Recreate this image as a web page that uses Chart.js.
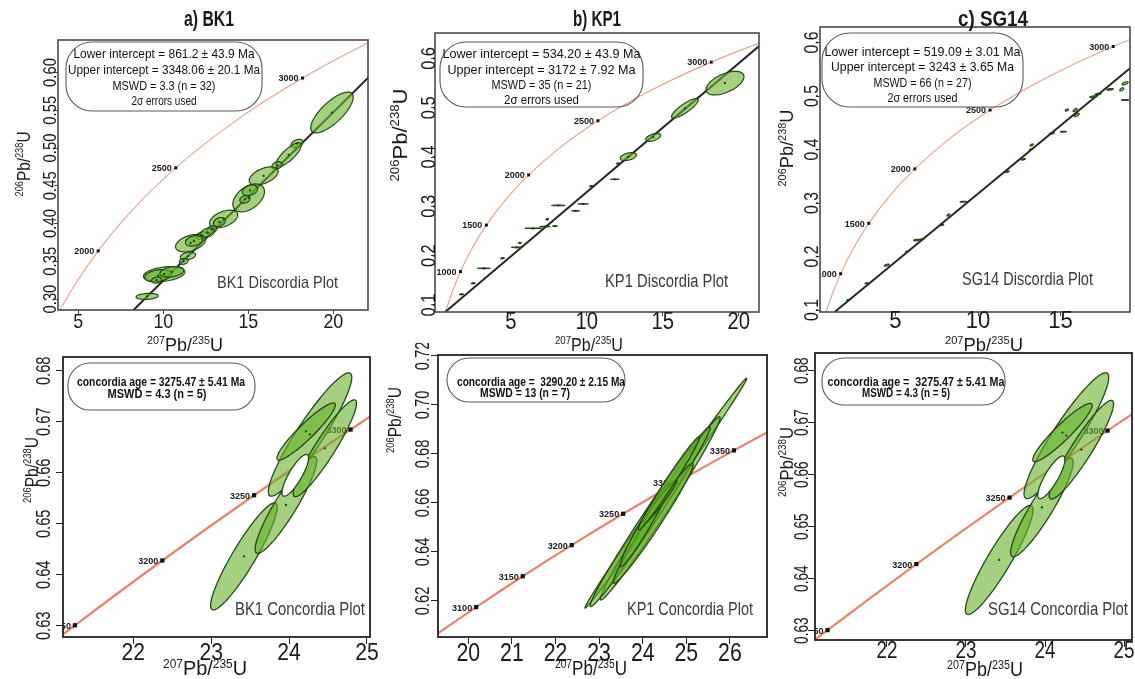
<!DOCTYPE html>
<html><head><meta charset="utf-8">
<script src="https://cdn.jsdelivr.net/npm/chart.js@4.4.1/dist/chart.umd.min.js"></script>
<style>
html,body{margin:0;padding:0;background:#fff;}
body{width:1135px;height:679px;position:relative;overflow:hidden;}
canvas{position:absolute;display:block;}
</style></head><body>
<script>
// ===== Concordia curve points (age in Ma, 207Pb/235U, 206Pb/238U) =====
const concAgesWide = [250,500,750,1000,1250,1500,1750,2000,2250,2500,2750,3000,3250,3500];
const concXWide = [0.2792,0.6363,1.0930,1.6774,2.4250,3.3812,4.6044,6.1685,8.1699,10.730,14.005,18.193,23.551,30.41];
const concYWide = [0.03954,0.08065,0.12338,0.16782,0.21399,0.26199,0.31189,0.36375,0.41768,0.47372,0.53201,0.59263,0.65559,0.72103];
const ageTickWide = [1000,1500,2000,2500,3000];
const ageTickXWide = [1.6774,3.3812,6.1685,10.730,18.193];
const ageTickYWide = [0.16782,0.26199,0.36375,0.47372,0.59263];

const concAgesZoom = [3050,3100,3150,3200,3250,3300,3350,3400];
const concXZoom = [19.162,20.180,21.249,22.372,23.551,24.790,26.092,27.460];
const concYZoom = [0.60501,0.61751,0.63010,0.64280,0.65559,0.66848,0.68147,0.69456];
const ageTickZoom = [3100,3150,3200,3250,3300,3350];
const ageTickXZoom = [20.180,21.249,22.372,23.551,24.790,26.092];
const ageTickYZoom = [0.61751,0.63010,0.64280,0.65559,0.66848,0.68147];

// ===== a) BK1 discordia =====
const bk1DiscLineX = [8.25, 22.08];
const bk1DiscLineY = [0.2855, 0.5938];
const bk1DiscX   = [19.92,17.86,17.37,16.69,15.90,15.02,15.10,14.80,13.55,13.30,12.85,12.30,11.60,11.80,11.45,11.20,10.05,9.70,10.50,9.05,9.60,12.60];
const bk1DiscY   = [0.547,0.506,0.491,0.477,0.463,0.434,0.444,0.432,0.406,0.402,0.392,0.384,0.374,0.377,0.357,0.350,0.333,0.331,0.336,0.3035,0.325,0.388];
const bk1DiscSX  = [1.25,0.35,0.75,0.30,0.85,0.93,0.45,0.30,0.83,0.35,0.30,0.35,0.88,0.50,0.45,0.25,1.22,0.80,0.70,0.65,0.30,0.40];
const bk1DiscSY  = [0.027,0.0055,0.016,0.005,0.012,0.0185,0.007,0.005,0.0117,0.006,0.005,0.005,0.0115,0.007,0.005,0.004,0.0099,0.008,0.007,0.004,0.004,0.006];
const bk1DiscRho = [0.75,0.4,0.8,0.3,0.5,0.45,0.3,0.2,0.45,0.3,0.3,0.2,0.4,0.3,0.3,0.2,0.3,0.3,0.3,0.2,0.2,0.3];
const bk1DiscXTicks = [5,10,15,20];
const bk1DiscXTickLabels = ['5','10','15','20'];
const bk1DiscYTicks = [0.30,0.35,0.40,0.45,0.50,0.55,0.60];
const bk1DiscYTickLabels = ['0.30','0.35','0.40','0.45','0.50','0.55','0.60'];

// ===== b) KP1 discordia =====
const kp1DiscLineX = [0.6923, 21.75];
const kp1DiscLineY = [0.0864, 0.6357];
const kp1DiscX   = [19.10,16.46,14.37,12.73,11.85,12.07,10.32,9.76,9.26,8.12,7.90,7.24,7.39,6.47,5.38,5.59,4.45,3.22,2.52,1.75];
const kp1DiscY   = [0.550,0.499,0.440,0.401,0.355,0.387,0.341,0.305,0.291,0.302,0.260,0.259,0.274,0.2556,0.217,0.226,0.1947,0.1744,0.144,0.1217];
const kp1DiscSX  = [1.25,0.88,0.49,0.53,0.27,0.12,0.15,0.33,0.25,0.43,0.15,0.33,0.08,0.53,0.33,0.10,0.13,0.40,0.13,0.13];
const kp1DiscSY  = [0.024,0.020,0.008,0.008,0.0005,0.0008,0.0005,0.0005,0.0005,0.0005,0.0005,0.0005,0.0015,0.0005,0.0005,0.0008,0.0008,0.0005,0.0008,0.0008];
const kp1DiscRho = [0.55,0.85,0.5,0.4,0,0.5,0,0,0,0,0,0,0.5,0,0,0.5,0.5,0,0.5,0.5];
const kp1DiscXTicks = [5,10,15,20];
const kp1DiscXTickLabels = ['5','10','15','20'];
const kp1DiscYTicks = [0.1,0.2,0.3,0.4,0.5,0.6];
const kp1DiscYTickLabels = ['0.1','0.2','0.3','0.4','0.5','0.6'];

// ===== c) SG14 discordia =====
const sg14DiscLineX = [1.33, 19.21];
const sg14DiscLineY = [0.0968, 0.5518];
const sg14DiscX   = [2.14,3.25,4.47,5.68,6.28,6.59,7.80,8.20,9.11,11.74,12.75,13.25,13.20,14.47,15.17,15.98,15.88,15.38,16.99,17.27,18.00,18.91,18.91,18.71];
const sg14DiscY   = [0.1187,0.150,0.184,0.209,0.2308,0.2321,0.2589,0.2776,0.3024,0.3585,0.3817,0.4084,0.400,0.4303,0.4333,0.4645,0.4738,0.4738,0.4987,0.5037,0.5125,0.5237,0.4925,0.5125];
const sg14DiscSX  = [0.10,0.10,0.15,0.08,0.18,0.12,0.12,0.08,0.20,0.15,0.12,0.10,0.08,0.15,0.18,0.15,0.12,0.10,0.22,0.18,0.20,0.18,0.22,0.12];
const sg14DiscSY  = [0.0012,0.0012,0.002,0.0012,0.0015,0.0012,0.0012,0.002,0.0008,0.0015,0.0015,0.002,0.0012,0.0015,0.0008,0.003,0.003,0.002,0.0015,0.0015,0.0015,0.003,0.0008,0.003];
const sg14DiscRho = [0.6,0.6,0.7,0.5,0.4,0.5,0.6,0.6,0.3,0.6,0.6,0.6,0.5,0.5,0.2,0.7,0.7,0.5,0.4,0.5,0.4,0.6,0.2,0.6];
const sg14DiscXTicks = [5,10,15];
const sg14DiscXTickLabels = ['5','10','15'];
const sg14DiscYTicks = [0.1,0.2,0.3,0.4,0.5,0.6];
const sg14DiscYTickLabels = ['0.1','0.2','0.3','0.4','0.5','0.6'];

// ===== d) / f) BK1 & SG14 concordia (same five analyses) =====
const bk1ConcX   = [23.42,23.96,24.27,24.46,24.22];
const bk1ConcY   = [0.6436,0.6537,0.6675,0.6648,0.6681];
const bk1ConcSX  = [0.428,0.396,0.536,0.407,0.375];
const bk1ConcSY  = [0.0105,0.0095,0.0121,0.0095,0.0056];
const bk1ConcRho = [0.917,0.913,0.925,0.928,0.93];
const bk1ConcAge = [24.08,0.6595,0.171,0.0041,0.83]; // x, y, sx, sy, rho of concordia-age ellipse
const bk1ConcXTicks = [22,23,24,25];
const bk1ConcXTickLabels = ['22','23','24','25'];
const bk1ConcYTicks = [0.63,0.64,0.65,0.66,0.67,0.68];
const bk1ConcYTickLabels = ['0.63','0.64','0.65','0.66','0.67','0.68'];

// ===== e) KP1 concordia =====
const kp1ConcX   = [24.53,24.40,24.17,24.24,24.05,24.40,24.60];
const kp1ConcY   = [0.664,0.6578,0.6544,0.6517,0.651,0.6605,0.668];
const kp1ConcSX  = [1.855,1.376,1.376,0.917,0.57,0.38,0.70];
const kp1ConcSY  = [0.0469,0.0374,0.0367,0.0245,0.017,0.0088,0.019];
const kp1ConcRho = [0.998,0.989,0.99,0.98,0.97,0.97,0.985];
const kp1ConcXTicks = [20,21,22,23,24,25,26];
const kp1ConcXTickLabels = ['20','21','22','23','24','25','26'];
const kp1ConcYTicks = [0.62,0.64,0.66,0.68,0.70,0.72];
const kp1ConcYTickLabels = ['0.62','0.64','0.66','0.68','0.70','0.72'];

// ================= drawing helpers =================
const FONT = '"Liberation Sans", Arial, Helvetica, sans-serif';
function setFont(ctx, size, bold) { ctx.font = (bold ? 'bold ' : '') + size + 'px ' + FONT; }
function drawText(ctx, s, x, y, o) {
  ctx.save();
  ctx.translate(x, y);
  if (o.rot) ctx.rotate(o.rot);
  setFont(ctx, o.size, o.bold);
  let sc = o.sx || 1;
  if (o.width) sc = o.width / ctx.measureText(s).width;
  ctx.scale(sc, 1);
  ctx.textAlign = o.align || 'center';
  ctx.textBaseline = o.baseline || 'alphabetic';
  ctx.fillStyle = o.color || '#111';
  ctx.fillText(s, 0, 0);
  ctx.restore();
}
function drawIso(ctx, x, y, parts, size, width, rot) {
  ctx.save(); ctx.translate(x, y); if (rot) ctx.rotate(rot);
  const segs = [[parts[0], size * 0.6, true], [parts[1], size, false], [parts[2], size * 0.6, true], [parts[3], size, false]];
  let w = 0;
  segs.forEach(sg => { setFont(ctx, sg[1]); sg.push(ctx.measureText(sg[0]).width); w += sg[3]; });
  ctx.scale(width / w, 1);
  ctx.textAlign = 'left'; ctx.textBaseline = 'alphabetic'; ctx.fillStyle = '#1a1a1a';
  let cx = -w / 2;
  segs.forEach(sg => { setFont(ctx, sg[1]); ctx.fillText(sg[0], cx, sg[2] ? -size * 0.36 : 0); cx += sg[3]; });
  ctx.restore();
}
function drawEllipse(ctx, xs, ys, cx, cy, sx, sy, rho, fill, stroke, lw) {
  const n = 90, k = Math.sqrt(Math.max(0, 1 - rho * rho));
  ctx.beginPath();
  for (let i = 0; i <= n; i++) {
    const t = 2 * Math.PI * i / n;
    const px = xs.getPixelForValue(cx + sx * Math.cos(t));
    const py = ys.getPixelForValue(cy + sy * (rho * Math.cos(t) + k * Math.sin(t)));
    if (i === 0) ctx.moveTo(px, py); else ctx.lineTo(px, py);
  }
  ctx.closePath();
  ctx.fillStyle = fill; ctx.fill();
  ctx.lineWidth = lw; ctx.strokeStyle = stroke; ctx.stroke();
}
const pts = (xa, ya) => xa.map((v, i) => ({x: v, y: ya[i]}));

function buildPanel(P) {
  const W = (P.box.r - P.box.l) + P.WL + P.PR;
  const H = (P.box.b - P.box.t) + P.PT + P.HB;
  const ox = P.box.l - P.WL, oy = P.box.t - P.PT;
  const cv = document.createElement('canvas');
  cv.width = W; cv.height = H;
  Object.assign(cv.style, {left: ox + 'px', top: oy + 'px', width: W + 'px', height: H + 'px'});
  document.body.appendChild(cv);
  const X = v => v - ox, Y = v => v - oy;

  const plugin = {
    id: 'decor_' + P.id,
    afterDatasetsDraw(chart) {
      const ctx = chart.ctx, ca = chart.chartArea, xs = chart.scales.x, ys = chart.scales.y;
      ctx.save();
      ctx.beginPath(); ctx.rect(ca.left, ca.top, ca.right - ca.left, ca.bottom - ca.top); ctx.clip();
      for (let i = 0; i < P.marks.age.length; i++) {
        const px = xs.getPixelForValue(P.marks.x[i]), py = ys.getPixelForValue(P.marks.y[i]);
        drawText(ctx, String(P.marks.age[i]), px - P.markGap, py + P.markSize * 0.36,
          {size: P.markSize, bold: true, align: 'right', sx: P.markSx, color: '#1a1a1a'});
      }
      const E = P.ell;
      for (let i = 0; i < E.x.length; i++)
        drawEllipse(ctx, xs, ys, E.x[i], E.y[i], E.sx[i], E.sy[i], E.rho[i], P.ellFill, P.ellStroke, P.ellLW);
      if (P.white) drawEllipse(ctx, xs, ys, P.white[0], P.white[1], P.white[2], P.white[3], P.white[4], '#ffffff', P.ellStroke, P.ellLW);
      if (P.dots) {
        ctx.fillStyle = '#1c3a10';
        for (let i = 0; i < E.x.length; i++) {
          ctx.beginPath(); ctx.arc(xs.getPixelForValue(E.x[i]), ys.getPixelForValue(E.y[i]), 1.1, 0, 2 * Math.PI); ctx.fill();
        }
      }
      ctx.restore();
    },
    afterDraw(chart) {
      const ctx = chart.ctx, ca = chart.chartArea, xs = chart.scales.x, ys = chart.scales.y;
      ctx.save(); ctx.strokeStyle = P.boxColor; ctx.lineWidth = P.boxLW;
      ctx.strokeRect(ca.left, ca.top, ca.right - ca.left, ca.bottom - ca.top); ctx.restore();
      P.xt.forEach((v, i) => drawText(ctx, P.xtl[i], xs.getPixelForValue(v), Y(P.xTickBase),
        {size: P.xTickSize, sx: P.xTickSx, color: '#1a1a1a'}));
      P.yt.forEach((v, i) => drawText(ctx, P.ytl[i], X(P.yTickCx) + 0.358 * P.yTickSize, ys.getPixelForValue(v),
        {size: P.yTickSize, sx: P.yTickSx, rot: -Math.PI / 2, color: '#1a1a1a'}));
      if (P.title) drawText(ctx, P.title.s, X(P.title.x), Y(P.title.y), {size: 22, bold: true, width: P.title.w, color: '#1a1a1a'});
      drawIso(ctx, X(P.xTitle.x), Y(P.xTitle.y), ['207', 'Pb/', '235', 'U'], P.xTitle.size, P.xTitle.w, 0);
      drawIso(ctx, X(P.yTitle.x) + 0.42 * P.yTitle.size, Y(P.yTitle.y), ['206', 'Pb/', '238', 'U'], P.yTitle.size, P.yTitle.w, -Math.PI / 2);
      drawText(ctx, P.note.s, X(P.note.x), Y(P.note.y), {size: P.note.size, align: 'left', width: P.note.w, color: '#3a3a3a'});
      const I = P.info;
      ctx.save(); ctx.beginPath(); ctx.roundRect(X(I.x), Y(I.y), I.w, I.h, I.r);
      ctx.strokeStyle = '#5a5a5a'; ctx.lineWidth = 1.1; ctx.stroke(); ctx.restore();
      I.lines.forEach(L => drawText(ctx, L.s, X(L.cx !== undefined ? L.cx : I.x + I.w / 2), Y(L.y),
        {size: I.size, bold: I.bold, width: L.w, color: '#111'}));
    }
  };

  const datasets = [
    {type: 'line', data: pts(P.conc.x, P.conc.y), borderColor: P.concColor, borderWidth: P.concWidth,
     pointRadius: 0, cubicInterpolationMode: 'monotone', fill: false, clip: 0, order: 3}
  ];
  if (P.disc) datasets.push({type: 'line', data: pts(P.disc.x, P.disc.y), borderColor: '#262626', borderWidth: 2,
    pointRadius: 0, fill: false, clip: 0, order: 2});
  datasets.push({type: 'scatter', data: pts(P.marks.x, P.marks.y), pointStyle: 'rect', pointRadius: P.markR,
    backgroundColor: '#111', borderColor: '#111', borderWidth: 0, clip: 0, order: 1});

  const axis = (min, max, ticks, fitFn) => ({
    type: 'linear', min: min, max: max, bounds: 'data',
    afterBuildTicks: s => { s.ticks = ticks.map(v => ({value: v})); },
    afterFit: fitFn,
    ticks: {display: false, autoSkip: false},
    grid: {display: true, drawOnChartArea: false, drawTicks: true, tickLength: P.TL, color: P.tickColor, lineWidth: 1},
    border: {display: false}
  });

  new Chart(cv, {
    type: 'scatter',
    data: {datasets},
    options: {
      responsive: false, animation: false, devicePixelRatio: 1, events: [],
      layout: {padding: {left: 0, top: P.PT, right: P.PR, bottom: 0}},
      plugins: {legend: {display: false}, tooltip: {enabled: false}, title: {display: false}},
      scales: {
        x: Object.assign(axis(P.xr[0], P.xr[1], P.xt, s => { s.height = P.HB; }), {position: 'bottom'}),
        y: Object.assign(axis(P.yr[0], P.yr[1], P.yt, s => { s.width = P.WL; }), {position: 'left'})
      }
    },
    plugins: [plugin]
  });
}

const FILL = 'rgba(104,176,44,0.6)', STROKE = 'rgba(26,66,14,0.95)';
const topCommon = {WL: 62, PT: 40, HB: 46, PR: 8, TL: 4, tickColor: '#444', boxColor: '#4a4a4a', boxLW: 1.6,
  conc: {x: concXWide, y: concYWide}, concColor: '#eba08c', concWidth: 1.1,
  marks: {age: ageTickWide, x: ageTickXWide, y: ageTickYWide}, markR: 2.1, markSize: 9, markSx: 1, markGap: 4,
  ellFill: FILL, ellStroke: STROKE, ellLW: 1.2};
const botCommon = {WL: 62, PT: 12, HB: 42, PR: 8, TL: 7, tickColor: '#222', boxColor: '#222', boxLW: 1.8,
  conc: {x: concXZoom, y: concYZoom}, concColor: '#e9836b', concWidth: 2.2,
  marks: {age: ageTickZoom, x: ageTickXZoom, y: ageTickYZoom}, markR: 3, markSize: 9.5, markSx: 0.95, markGap: 4,
  ellFill: FILL, ellStroke: STROKE, ellLW: 1.3};

buildPanel(Object.assign({}, topCommon, {
  id: 'a', box: {l: 58, t: 40, r: 368, b: 310}, xr: [3.806, 22.04], yr: [0.2855, 0.643],
  xt: bk1DiscXTicks, xtl: bk1DiscXTickLabels, yt: bk1DiscYTicks, ytl: bk1DiscYTickLabels,
  disc: {x: bk1DiscLineX, y: bk1DiscLineY},
  ell: {x: bk1DiscX, y: bk1DiscY, sx: bk1DiscSX, sy: bk1DiscSY, rho: bk1DiscRho}, dots: true,
  xTickBase: 328, xTickSize: 21, xTickSx: 0.85, yTickCx: 49, yTickSize: 18.5, yTickSx: 0.8,
  title: {s: 'a) BK1', x: 209, y: 26, w: 50},
  xTitle: {x: 185, y: 351, w: 76, size: 19}, yTitle: {x: 22, y: 164, w: 65, size: 18},
  note: {s: 'BK1 Discordia Plot', x: 217, y: 288, w: 121, size: 17},
  info: {x: 66, y: 42, w: 196, h: 69, r: 26, size: 13.5, bold: false, lines: [
    {s: 'Lower intercept = 861.2 ± 43.9 Ma', y: 58, w: 181},
    {s: 'Upper intercept = 3348.06 ± 20.1 Ma', y: 74, w: 192},
    {s: 'MSWD = 3.3 (n = 32)', y: 90, w: 103},
    {s: '2σ errors used', y: 105, w: 65}]}
}));

buildPanel(Object.assign({}, topCommon, {
  id: 'b', box: {l: 435, t: 33, r: 759, b: 312}, xr: [0, 21.34], yr: [0.0858, 0.6517],
  xt: kp1DiscXTicks, xtl: kp1DiscXTickLabels, yt: kp1DiscYTicks, ytl: kp1DiscYTickLabels,
  disc: {x: kp1DiscLineX, y: kp1DiscLineY},
  ell: {x: kp1DiscX, y: kp1DiscY, sx: kp1DiscSX, sy: kp1DiscSY, rho: kp1DiscRho}, dots: true,
  xTickBase: 329, xTickSize: 23, xTickSx: 0.88, yTickCx: 427, yTickSize: 21, yTickSx: 0.78,
  title: {s: 'b) KP1', x: 597, y: 26, w: 48},
  xTitle: {x: 589, y: 351, w: 68, size: 19}, yTitle: {x: 398, y: 135, w: 93, size: 21},
  note: {s: 'KP1 Discordia Plot', x: 605, y: 287, w: 123, size: 18},
  info: {x: 440, y: 42, w: 203, h: 65, r: 26, size: 13.5, bold: false, lines: [
    {s: 'Lower intercept = 534.20 ± 43.9 Ma', y: 58, w: 198},
    {s: 'Upper intercept = 3172 ± 7.92 Ma', y: 74, w: 188},
    {s: 'MSWD = 35 (n = 21)', y: 89, w: 100},
    {s: '2σ errors used', y: 104, w: 75}]}
}));

buildPanel(Object.assign({}, topCommon, {
  id: 'c', box: {l: 820, t: 27, r: 1130, b: 312}, xr: [0.424, 19.21], yr: [0.0963, 0.629],
  xt: sg14DiscXTicks, xtl: sg14DiscXTickLabels, yt: sg14DiscYTicks, ytl: sg14DiscYTickLabels,
  disc: {x: sg14DiscLineX, y: sg14DiscLineY},
  ell: {x: sg14DiscX, y: sg14DiscY, sx: sg14DiscSX, sy: sg14DiscSY, rho: sg14DiscRho}, dots: false,
  xTickBase: 328, xTickSize: 24, xTickSx: 0.92, yTickCx: 810, yTickSize: 21, yTickSx: 0.75,
  title: {s: 'c) SG14', x: 993, y: 26, w: 70},
  xTitle: {x: 984, y: 351, w: 78, size: 19}, yTitle: {x: 785, y: 148, w: 77, size: 19},
  note: {s: 'SG14 Discordia Plot', x: 962, y: 285, w: 131, size: 18},
  info: {x: 822, y: 33, w: 201, h: 74, r: 28, size: 13.5, bold: false, lines: [
    {s: 'Lower intercept = 519.09 ± 3.01 Ma', y: 56, w: 196},
    {s: 'Upper intercept = 3243 ± 3.65 Ma', y: 71, w: 183},
    {s: 'MSWD = 66 (n = 27)', y: 87, w: 98},
    {s: '2σ errors used', y: 102, w: 70}]}
}));

buildPanel(Object.assign({}, botCommon, {
  id: 'd', box: {l: 63, t: 357, r: 370, b: 637}, xr: [21.096, 25.04], yr: [0.6278, 0.6827],
  xt: bk1ConcXTicks, xtl: bk1ConcXTickLabels, yt: bk1ConcYTicks, ytl: bk1ConcYTickLabels,
  ell: {x: bk1ConcX, y: bk1ConcY, sx: bk1ConcSX, sy: bk1ConcSY, rho: bk1ConcRho}, white: bk1ConcAge, dots: true,
  xTickBase: 660, xTickSize: 24, xTickSx: 0.88, yTickCx: 42.5, yTickSize: 21, yTickSx: 0.7,
  xTitle: {x: 205, y: 675, w: 84, size: 20}, yTitle: {x: 30, y: 470, w: 66, size: 18},
  note: {s: 'BK1 Concordia Plot', x: 235, y: 615, w: 130, size: 18},
  info: {x: 68, y: 363, w: 187, h: 47, r: 22, size: 12, bold: true, lines: [
    {s: 'concordia age = 3275.47 ± 5.41 Ma', y: 386, w: 168, cx: 161},
    {s: 'MSWD = 4.3 (n = 5)', y: 398, w: 99, cx: 157}]}
}));

buildPanel(Object.assign({}, botCommon, {
  id: 'e', box: {l: 438, t: 355, r: 767, b: 637}, xr: [19.305, 26.85], yr: [0.6053, 0.7204],
  xt: kp1ConcXTicks, xtl: kp1ConcXTickLabels, yt: kp1ConcYTicks, ytl: kp1ConcYTickLabels,
  ell: {x: kp1ConcX, y: kp1ConcY, sx: kp1ConcSX, sy: kp1ConcSY, rho: kp1ConcRho}, dots: false,
  xTickBase: 661, xTickSize: 25, xTickSx: 0.85, yTickCx: 421, yTickSize: 21, yTickSx: 0.7,
  xTitle: {x: 591, y: 675, w: 72, size: 20}, yTitle: {x: 393, y: 420, w: 66, size: 18},
  note: {s: 'KP1 Concordia Plot', x: 627, y: 615, w: 126, size: 18},
  info: {x: 447, y: 358, w: 178, h: 44, r: 22, size: 12, bold: true, lines: [
    {s: 'concordia age =  3290.20 ± 2.15 Ma', y: 386, w: 168, cx: 541},
    {s: 'MSWD = 13 (n = 7)', y: 397, w: 90, cx: 525}]}
}));

buildPanel(Object.assign({}, botCommon, {
  id: 'f', box: {l: 815, t: 353, r: 1132, b: 640}, xr: [21.09, 25.10], yr: [0.6282, 0.6834],
  xt: bk1ConcXTicks, xtl: bk1ConcXTickLabels, yt: bk1ConcYTicks, ytl: bk1ConcYTickLabels,
  ell: {x: bk1ConcX, y: bk1ConcY, sx: bk1ConcSX, sy: bk1ConcSY, rho: bk1ConcRho}, white: bk1ConcAge, dots: true,
  xTickBase: 658, xTickSize: 23, xTickSx: 0.82, yTickCx: 800, yTickSize: 21, yTickSx: 0.65,
  xTitle: {x: 985, y: 676, w: 76, size: 20}, yTitle: {x: 785, y: 462, w: 70, size: 18},
  note: {s: 'SG14 Concordia Plot', x: 988, y: 615, w: 140, size: 18},
  info: {x: 822, y: 358, w: 183, h: 47, r: 22, size: 12, bold: true, lines: [
    {s: 'concordia age =  3275.47 ± 5.41 Ma', y: 386, w: 177, cx: 916},
    {s: 'MSWD = 4.3 (n = 5)', y: 397, w: 88, cx: 906}]}
}));
</script>
</body></html>
